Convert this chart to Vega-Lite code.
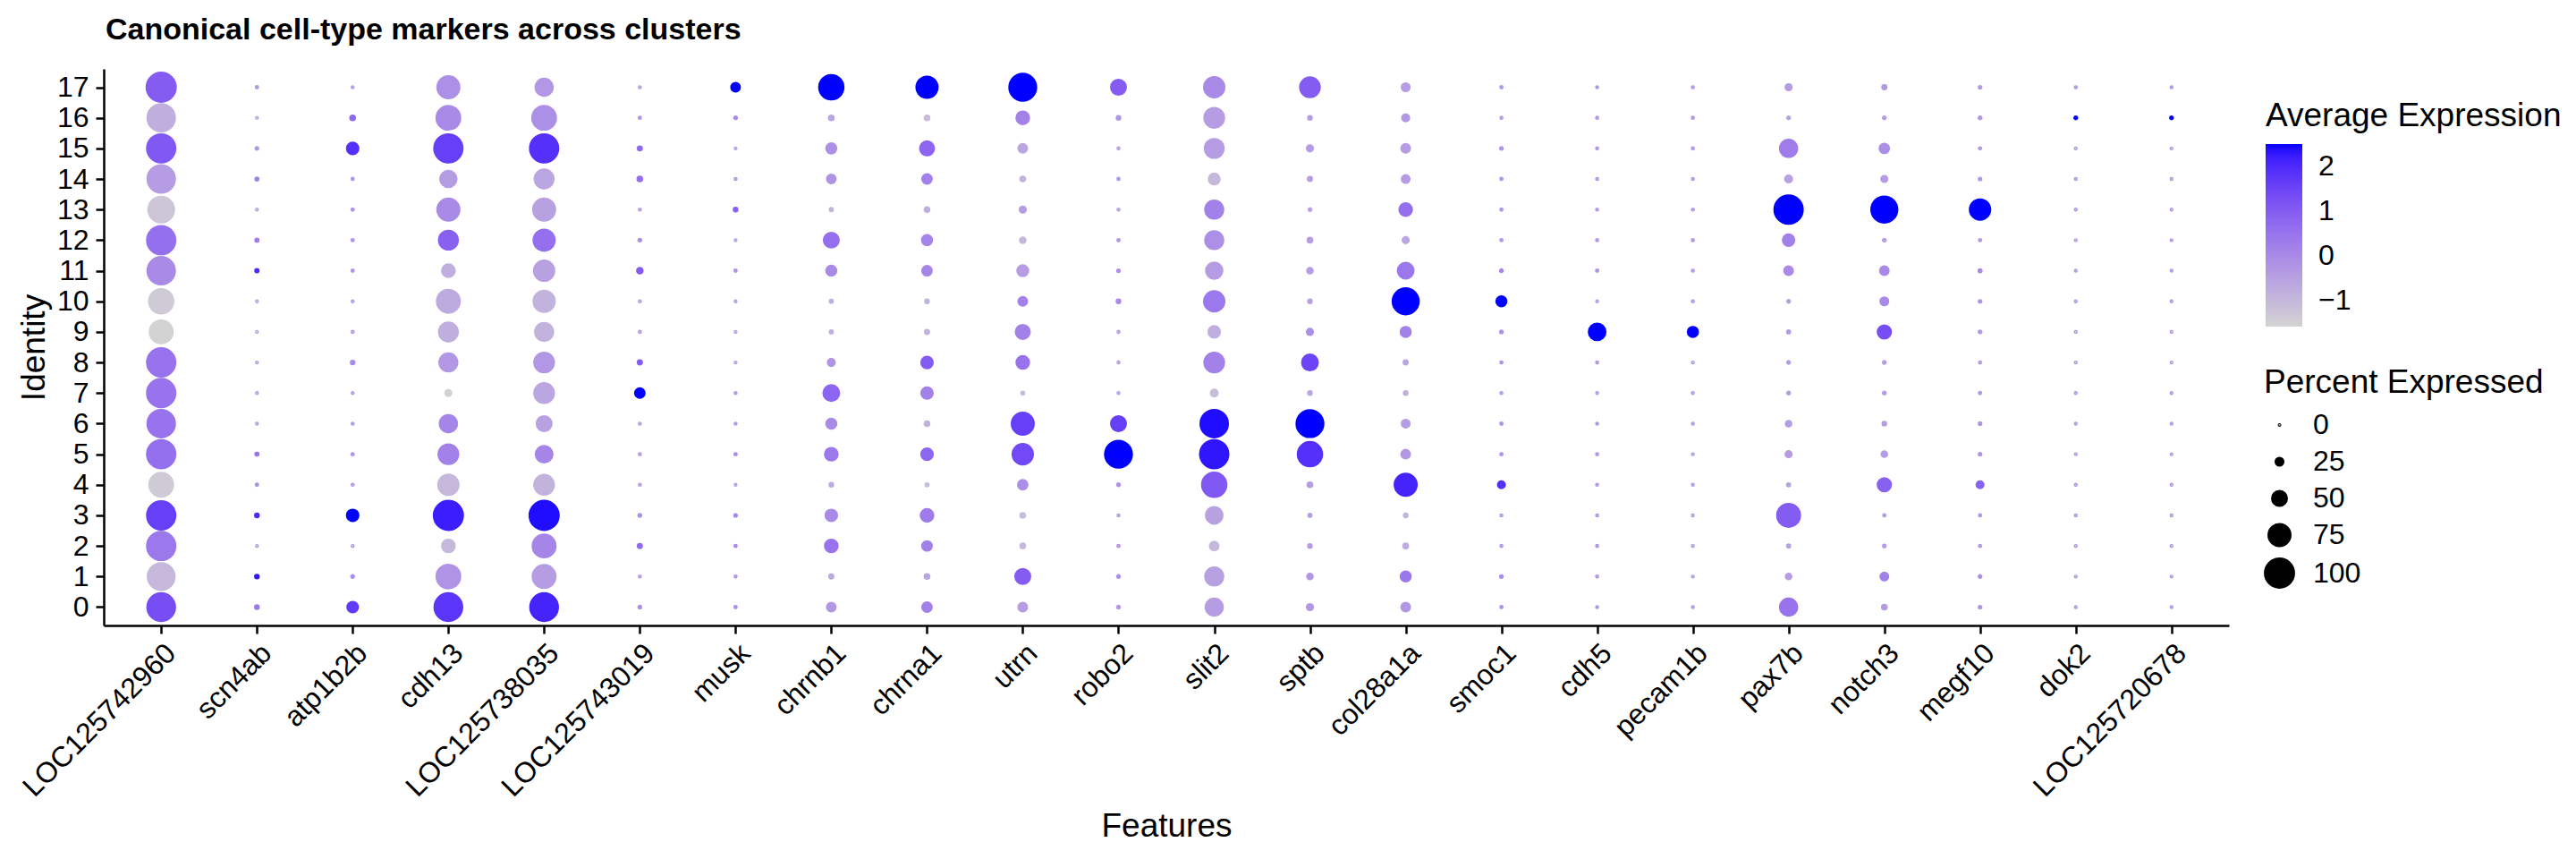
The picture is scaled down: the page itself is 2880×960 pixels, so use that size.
{
"$schema": "https://vega.github.io/schema/vega-lite/v6.json",
"width": 2376, "height": 622,
"autosize": {"type": "none"},
"padding": {"left": 116, "top": 77, "right": 388, "bottom": 261},
"background": "white",
"title": {"text": "Canonical cell-type markers across clusters", "anchor": "start", "frame": "group", "fontSize": 34, "fontWeight": "bold", "font": "Liberation Sans", "color": "black", "baseline": "alphabetic", "offset": -2, "dx": 2},
"config": {"view": {"stroke": null}, "font": "Liberation Sans"},
"datasets": {"dots": [
{"feature":"LOC125742960","cluster":0,"pct":95,"avg":1.3},{"feature":"LOC125742960","cluster":1,"pct":92,"avg":-1.0},{"feature":"LOC125742960","cluster":2,"pct":97,"avg":0.4},{"feature":"LOC125742960","cluster":3,"pct":97,"avg":1.6},{"feature":"LOC125742960","cluster":4,"pct":81,"avg":-1.4},{"feature":"LOC125742960","cluster":5,"pct":97,"avg":0.6},{"feature":"LOC125742960","cluster":6,"pct":94,"avg":0.5},{"feature":"LOC125742960","cluster":7,"pct":97,"avg":0.5},{"feature":"LOC125742960","cluster":8,"pct":97,"avg":0.5},{"feature":"LOC125742960","cluster":9,"pct":78,"avg":-1.55},{"feature":"LOC125742960","cluster":10,"pct":83,"avg":-1.4},{"feature":"LOC125742960","cluster":11,"pct":94,"avg":0.0},{"feature":"LOC125742960","cluster":12,"pct":97,"avg":0.6},{"feature":"LOC125742960","cluster":13,"pct":88,"avg":-1.3},{"feature":"LOC125742960","cluster":14,"pct":94,"avg":-0.4},{"feature":"LOC125742960","cluster":15,"pct":97,"avg":1.1},{"feature":"LOC125742960","cluster":16,"pct":94,"avg":-0.8},{"feature":"LOC125742960","cluster":17,"pct":100,"avg":1.0},
{"feature":"scn4ab","cluster":0,"pct":10,"avg":0.4},{"feature":"scn4ab","cluster":1,"pct":10,"avg":2.3},{"feature":"scn4ab","cluster":2,"pct":3,"avg":-0.4},{"feature":"scn4ab","cluster":3,"pct":10,"avg":2.0},{"feature":"scn4ab","cluster":4,"pct":5,"avg":-0.1},{"feature":"scn4ab","cluster":5,"pct":8,"avg":0.5},{"feature":"scn4ab","cluster":6,"pct":3,"avg":-0.4},{"feature":"scn4ab","cluster":7,"pct":3,"avg":-0.3},{"feature":"scn4ab","cluster":8,"pct":3,"avg":-0.4},{"feature":"scn4ab","cluster":9,"pct":3,"avg":-0.5},{"feature":"scn4ab","cluster":10,"pct":3,"avg":-0.5},{"feature":"scn4ab","cluster":11,"pct":9,"avg":2.0},{"feature":"scn4ab","cluster":12,"pct":8,"avg":0.3},{"feature":"scn4ab","cluster":13,"pct":3,"avg":-0.5},{"feature":"scn4ab","cluster":14,"pct":8,"avg":0.2},{"feature":"scn4ab","cluster":15,"pct":6,"avg":-0.3},{"feature":"scn4ab","cluster":16,"pct":3,"avg":-0.5},{"feature":"scn4ab","cluster":17,"pct":5,"avg":-0.3},
{"feature":"atp1b2b","cluster":0,"pct":35,"avg":1.7},{"feature":"atp1b2b","cluster":1,"pct":7,"avg":-0.1},{"feature":"atp1b2b","cluster":2,"pct":3,"avg":-0.3},{"feature":"atp1b2b","cluster":3,"pct":38,"avg":2.5},{"feature":"atp1b2b","cluster":4,"pct":4,"avg":-0.3},{"feature":"atp1b2b","cluster":5,"pct":5,"avg":-0.2},{"feature":"atp1b2b","cluster":6,"pct":4,"avg":-0.3},{"feature":"atp1b2b","cluster":7,"pct":3,"avg":-0.3},{"feature":"atp1b2b","cluster":8,"pct":10,"avg":0.0},{"feature":"atp1b2b","cluster":9,"pct":4,"avg":-0.4},{"feature":"atp1b2b","cluster":10,"pct":4,"avg":-0.4},{"feature":"atp1b2b","cluster":11,"pct":5,"avg":-0.2},{"feature":"atp1b2b","cluster":12,"pct":5,"avg":-0.2},{"feature":"atp1b2b","cluster":13,"pct":5,"avg":-0.2},{"feature":"atp1b2b","cluster":14,"pct":5,"avg":-0.3},{"feature":"atp1b2b","cluster":15,"pct":38,"avg":1.9},{"feature":"atp1b2b","cluster":16,"pct":14,"avg":0.7},{"feature":"atp1b2b","cluster":17,"pct":4,"avg":-0.4},
{"feature":"cdh13","cluster":0,"pct":95,"avg":1.8},{"feature":"cdh13","cluster":1,"pct":81,"avg":-0.2},{"feature":"cdh13","cluster":2,"pct":42,"avg":-1.0},{"feature":"cdh13","cluster":3,"pct":100,"avg":2.2},{"feature":"cdh13","cluster":4,"pct":69,"avg":-1.0},{"feature":"cdh13","cluster":5,"pct":67,"avg":0.2},{"feature":"cdh13","cluster":6,"pct":58,"avg":0.1},{"feature":"cdh13","cluster":7,"pct":19,"avg":-1.55},{"feature":"cdh13","cluster":8,"pct":61,"avg":-0.3},{"feature":"cdh13","cluster":9,"pct":64,"avg":-0.8},{"feature":"cdh13","cluster":10,"pct":78,"avg":-0.7},{"feature":"cdh13","cluster":11,"pct":42,"avg":-0.8},{"feature":"cdh13","cluster":12,"pct":64,"avg":0.9},{"feature":"cdh13","cluster":13,"pct":75,"avg":0.0},{"feature":"cdh13","cluster":14,"pct":55,"avg":-0.4},{"feature":"cdh13","cluster":15,"pct":97,"avg":1.6},{"feature":"cdh13","cluster":16,"pct":81,"avg":0.0},{"feature":"cdh13","cluster":17,"pct":75,"avg":-0.1},
{"feature":"LOC125738035","cluster":0,"pct":95,"avg":2.1},{"feature":"LOC125738035","cluster":1,"pct":78,"avg":-0.4},{"feature":"LOC125738035","cluster":2,"pct":78,"avg":0.1},{"feature":"LOC125738035","cluster":3,"pct":100,"avg":2.4},{"feature":"LOC125738035","cluster":4,"pct":67,"avg":-0.9},{"feature":"LOC125738035","cluster":5,"pct":56,"avg":0.1},{"feature":"LOC125738035","cluster":6,"pct":50,"avg":-0.5},{"feature":"LOC125738035","cluster":7,"pct":67,"avg":-0.6},{"feature":"LOC125738035","cluster":8,"pct":67,"avg":-0.3},{"feature":"LOC125738035","cluster":9,"pct":61,"avg":-0.9},{"feature":"LOC125738035","cluster":10,"pct":72,"avg":-0.9},{"feature":"LOC125738035","cluster":11,"pct":69,"avg":-0.5},{"feature":"LOC125738035","cluster":12,"pct":72,"avg":0.6},{"feature":"LOC125738035","cluster":13,"pct":75,"avg":-0.5},{"feature":"LOC125738035","cluster":14,"pct":64,"avg":-0.6},{"feature":"LOC125738035","cluster":15,"pct":97,"avg":1.9},{"feature":"LOC125738035","cluster":16,"pct":81,"avg":-0.1},{"feature":"LOC125738035","cluster":17,"pct":58,"avg":-0.3},
{"feature":"LOC125743019","cluster":0,"pct":7,"avg":-0.1},{"feature":"LOC125743019","cluster":1,"pct":4,"avg":-0.4},{"feature":"LOC125743019","cluster":2,"pct":12,"avg":0.7},{"feature":"LOC125743019","cluster":3,"pct":7,"avg":-0.1},{"feature":"LOC125743019","cluster":4,"pct":4,"avg":-0.4},{"feature":"LOC125743019","cluster":5,"pct":4,"avg":-0.4},{"feature":"LOC125743019","cluster":6,"pct":4,"avg":-0.4},{"feature":"LOC125743019","cluster":7,"pct":31,"avg":2.5},{"feature":"LOC125743019","cluster":8,"pct":12,"avg":1.0},{"feature":"LOC125743019","cluster":9,"pct":4,"avg":-0.4},{"feature":"LOC125743019","cluster":10,"pct":4,"avg":-0.4},{"feature":"LOC125743019","cluster":11,"pct":17,"avg":1.0},{"feature":"LOC125743019","cluster":12,"pct":7,"avg":-0.1},{"feature":"LOC125743019","cluster":13,"pct":4,"avg":-0.4},{"feature":"LOC125743019","cluster":14,"pct":14,"avg":0.6},{"feature":"LOC125743019","cluster":15,"pct":12,"avg":0.7},{"feature":"LOC125743019","cluster":16,"pct":5,"avg":-0.2},{"feature":"LOC125743019","cluster":17,"pct":4,"avg":-0.4},
{"feature":"musk","cluster":0,"pct":5,"avg":-0.1},{"feature":"musk","cluster":1,"pct":4,"avg":-0.3},{"feature":"musk","cluster":2,"pct":5,"avg":0.0},{"feature":"musk","cluster":3,"pct":6,"avg":0.1},{"feature":"musk","cluster":4,"pct":3,"avg":-0.4},{"feature":"musk","cluster":5,"pct":5,"avg":0.0},{"feature":"musk","cluster":6,"pct":4,"avg":-0.3},{"feature":"musk","cluster":7,"pct":4,"avg":-0.3},{"feature":"musk","cluster":8,"pct":3,"avg":-0.4},{"feature":"musk","cluster":9,"pct":3,"avg":-0.4},{"feature":"musk","cluster":10,"pct":3,"avg":-0.4},{"feature":"musk","cluster":11,"pct":5,"avg":-0.2},{"feature":"musk","cluster":12,"pct":3,"avg":-0.4},{"feature":"musk","cluster":13,"pct":10,"avg":0.9},{"feature":"musk","cluster":14,"pct":4,"avg":-0.3},{"feature":"musk","cluster":15,"pct":3,"avg":-0.4},{"feature":"musk","cluster":16,"pct":7,"avg":0.0},{"feature":"musk","cluster":17,"pct":28,"avg":2.5},
{"feature":"chrnb1","cluster":0,"pct":28,"avg":-0.3},{"feature":"chrnb1","cluster":1,"pct":12,"avg":-0.7},{"feature":"chrnb1","cluster":2,"pct":42,"avg":0.5},{"feature":"chrnb1","cluster":3,"pct":38,"avg":0.0},{"feature":"chrnb1","cluster":4,"pct":10,"avg":-0.7},{"feature":"chrnb1","cluster":5,"pct":42,"avg":0.4},{"feature":"chrnb1","cluster":6,"pct":33,"avg":0.0},{"feature":"chrnb1","cluster":7,"pct":53,"avg":0.8},{"feature":"chrnb1","cluster":8,"pct":22,"avg":-0.2},{"feature":"chrnb1","cluster":9,"pct":8,"avg":-0.8},{"feature":"chrnb1","cluster":10,"pct":8,"avg":-0.8},{"feature":"chrnb1","cluster":11,"pct":33,"avg":0.0},{"feature":"chrnb1","cluster":12,"pct":50,"avg":0.6},{"feature":"chrnb1","cluster":13,"pct":8,"avg":-0.9},{"feature":"chrnb1","cluster":14,"pct":28,"avg":-0.2},{"feature":"chrnb1","cluster":15,"pct":33,"avg":-0.1},{"feature":"chrnb1","cluster":16,"pct":14,"avg":-0.6},{"feature":"chrnb1","cluster":17,"pct":83,"avg":2.5},
{"feature":"chrna1","cluster":0,"pct":31,"avg":0.2},{"feature":"chrna1","cluster":1,"pct":14,"avg":-0.6},{"feature":"chrna1","cluster":2,"pct":31,"avg":0.2},{"feature":"chrna1","cluster":3,"pct":42,"avg":0.3},{"feature":"chrna1","cluster":4,"pct":8,"avg":-1.1},{"feature":"chrna1","cluster":5,"pct":38,"avg":0.8},{"feature":"chrna1","cluster":6,"pct":14,"avg":-0.9},{"feature":"chrna1","cluster":7,"pct":38,"avg":0.2},{"feature":"chrna1","cluster":8,"pct":38,"avg":1.0},{"feature":"chrna1","cluster":9,"pct":12,"avg":-0.9},{"feature":"chrna1","cluster":10,"pct":10,"avg":-0.9},{"feature":"chrna1","cluster":11,"pct":31,"avg":0.1},{"feature":"chrna1","cluster":12,"pct":33,"avg":0.1},{"feature":"chrna1","cluster":13,"pct":14,"avg":-0.8},{"feature":"chrna1","cluster":14,"pct":31,"avg":0.2},{"feature":"chrna1","cluster":15,"pct":47,"avg":0.8},{"feature":"chrna1","cluster":16,"pct":14,"avg":-1.1},{"feature":"chrna1","cluster":17,"pct":72,"avg":2.5},
{"feature":"utrn","cluster":0,"pct":28,"avg":-0.4},{"feature":"utrn","cluster":1,"pct":50,"avg":1.0},{"feature":"utrn","cluster":2,"pct":14,"avg":-1.0},{"feature":"utrn","cluster":3,"pct":14,"avg":-1.1},{"feature":"utrn","cluster":4,"pct":31,"avg":-0.1},{"feature":"utrn","cluster":5,"pct":69,"avg":1.4},{"feature":"utrn","cluster":6,"pct":75,"avg":1.6},{"feature":"utrn","cluster":7,"pct":8,"avg":-1.1},{"feature":"utrn","cluster":8,"pct":42,"avg":0.5},{"feature":"utrn","cluster":9,"pct":47,"avg":0.2},{"feature":"utrn","cluster":10,"pct":28,"avg":0.2},{"feature":"utrn","cluster":11,"pct":36,"avg":-0.4},{"feature":"utrn","cluster":12,"pct":17,"avg":-1.0},{"feature":"utrn","cluster":13,"pct":19,"avg":-0.4},{"feature":"utrn","cluster":14,"pct":14,"avg":-0.9},{"feature":"utrn","cluster":15,"pct":28,"avg":-0.6},{"feature":"utrn","cluster":16,"pct":42,"avg":0.2},{"feature":"utrn","cluster":17,"pct":92,"avg":2.5},
{"feature":"robo2","cluster":0,"pct":7,"avg":-0.3},{"feature":"robo2","cluster":1,"pct":7,"avg":-0.1},{"feature":"robo2","cluster":2,"pct":5,"avg":-0.3},{"feature":"robo2","cluster":3,"pct":4,"avg":-0.4},{"feature":"robo2","cluster":4,"pct":7,"avg":-0.2},{"feature":"robo2","cluster":5,"pct":92,"avg":2.5},{"feature":"robo2","cluster":6,"pct":50,"avg":1.6},{"feature":"robo2","cluster":7,"pct":4,"avg":-0.5},{"feature":"robo2","cluster":8,"pct":4,"avg":-0.5},{"feature":"robo2","cluster":9,"pct":4,"avg":-0.5},{"feature":"robo2","cluster":10,"pct":10,"avg":0.0},{"feature":"robo2","cluster":11,"pct":6,"avg":-0.1},{"feature":"robo2","cluster":12,"pct":5,"avg":-0.3},{"feature":"robo2","cluster":13,"pct":4,"avg":-0.5},{"feature":"robo2","cluster":14,"pct":5,"avg":-0.3},{"feature":"robo2","cluster":15,"pct":4,"avg":-0.5},{"feature":"robo2","cluster":16,"pct":10,"avg":-0.3},{"feature":"robo2","cluster":17,"pct":50,"avg":1.0},
{"feature":"slit2","cluster":0,"pct":58,"avg":-0.4},{"feature":"slit2","cluster":1,"pct":61,"avg":-0.5},{"feature":"slit2","cluster":2,"pct":28,"avg":-1.0},{"feature":"slit2","cluster":3,"pct":56,"avg":-0.5},{"feature":"slit2","cluster":4,"pct":83,"avg":1.1},{"feature":"slit2","cluster":5,"pct":97,"avg":2.3},{"feature":"slit2","cluster":6,"pct":94,"avg":2.4},{"feature":"slit2","cluster":7,"pct":22,"avg":-1.1},{"feature":"slit2","cluster":8,"pct":67,"avg":0.2},{"feature":"slit2","cluster":9,"pct":38,"avg":-0.8},{"feature":"slit2","cluster":10,"pct":69,"avg":0.4},{"feature":"slit2","cluster":11,"pct":55,"avg":-0.4},{"feature":"slit2","cluster":12,"pct":61,"avg":-0.1},{"feature":"slit2","cluster":13,"pct":61,"avg":0.2},{"feature":"slit2","cluster":14,"pct":36,"avg":-1.0},{"feature":"slit2","cluster":15,"pct":64,"avg":-0.4},{"feature":"slit2","cluster":16,"pct":67,"avg":-0.4},{"feature":"slit2","cluster":17,"pct":69,"avg":0.0},
{"feature":"sptb","cluster":0,"pct":19,"avg":-0.3},{"feature":"sptb","cluster":1,"pct":17,"avg":-0.3},{"feature":"sptb","cluster":2,"pct":10,"avg":-0.4},{"feature":"sptb","cluster":3,"pct":8,"avg":-0.5},{"feature":"sptb","cluster":4,"pct":14,"avg":-0.4},{"feature":"sptb","cluster":5,"pct":83,"avg":1.9},{"feature":"sptb","cluster":6,"pct":92,"avg":2.5},{"feature":"sptb","cluster":7,"pct":10,"avg":-0.6},{"feature":"sptb","cluster":8,"pct":53,"avg":1.5},{"feature":"sptb","cluster":9,"pct":19,"avg":-0.1},{"feature":"sptb","cluster":10,"pct":10,"avg":-0.5},{"feature":"sptb","cluster":11,"pct":17,"avg":-0.4},{"feature":"sptb","cluster":12,"pct":14,"avg":-0.4},{"feature":"sptb","cluster":13,"pct":7,"avg":-0.5},{"feature":"sptb","cluster":14,"pct":12,"avg":-0.4},{"feature":"sptb","cluster":15,"pct":19,"avg":-0.4},{"feature":"sptb","cluster":16,"pct":10,"avg":-0.4},{"feature":"sptb","cluster":17,"pct":67,"avg":1.0},
{"feature":"col28a1a","cluster":0,"pct":28,"avg":-0.3},{"feature":"col28a1a","cluster":1,"pct":33,"avg":0.4},{"feature":"col28a1a","cluster":2,"pct":14,"avg":-0.7},{"feature":"col28a1a","cluster":3,"pct":10,"avg":-0.9},{"feature":"col28a1a","cluster":4,"pct":75,"avg":2.1},{"feature":"col28a1a","cluster":5,"pct":28,"avg":-0.3},{"feature":"col28a1a","cluster":6,"pct":25,"avg":-0.4},{"feature":"col28a1a","cluster":7,"pct":10,"avg":-0.8},{"feature":"col28a1a","cluster":8,"pct":12,"avg":-0.6},{"feature":"col28a1a","cluster":9,"pct":33,"avg":0.2},{"feature":"col28a1a","cluster":10,"pct":89,"avg":2.5},{"feature":"col28a1a","cluster":11,"pct":53,"avg":0.4},{"feature":"col28a1a","cluster":12,"pct":19,"avg":-0.6},{"feature":"col28a1a","cluster":13,"pct":42,"avg":0.6},{"feature":"col28a1a","cluster":14,"pct":25,"avg":-0.4},{"feature":"col28a1a","cluster":15,"pct":28,"avg":-0.4},{"feature":"col28a1a","cluster":16,"pct":22,"avg":-0.3},{"feature":"col28a1a","cluster":17,"pct":25,"avg":-0.4},
{"feature":"smoc1","cluster":0,"pct":5,"avg":-0.2},{"feature":"smoc1","cluster":1,"pct":6,"avg":0.0},{"feature":"smoc1","cluster":2,"pct":4,"avg":-0.3},{"feature":"smoc1","cluster":3,"pct":4,"avg":-0.3},{"feature":"smoc1","cluster":4,"pct":22,"avg":1.9},{"feature":"smoc1","cluster":5,"pct":5,"avg":-0.2},{"feature":"smoc1","cluster":6,"pct":5,"avg":-0.2},{"feature":"smoc1","cluster":7,"pct":4,"avg":-0.3},{"feature":"smoc1","cluster":8,"pct":5,"avg":-0.2},{"feature":"smoc1","cluster":9,"pct":6,"avg":-0.1},{"feature":"smoc1","cluster":10,"pct":33,"avg":2.5},{"feature":"smoc1","cluster":11,"pct":7,"avg":0.1},{"feature":"smoc1","cluster":12,"pct":5,"avg":-0.3},{"feature":"smoc1","cluster":13,"pct":5,"avg":-0.3},{"feature":"smoc1","cluster":14,"pct":5,"avg":-0.3},{"feature":"smoc1","cluster":15,"pct":6,"avg":-0.2},{"feature":"smoc1","cluster":16,"pct":4,"avg":-0.4},{"feature":"smoc1","cluster":17,"pct":5,"avg":-0.3},
{"feature":"cdh5","cluster":0,"pct":4,"avg":-0.25},{"feature":"cdh5","cluster":1,"pct":4,"avg":-0.25},{"feature":"cdh5","cluster":2,"pct":4,"avg":-0.25},{"feature":"cdh5","cluster":3,"pct":4,"avg":-0.25},{"feature":"cdh5","cluster":4,"pct":4,"avg":-0.25},{"feature":"cdh5","cluster":5,"pct":4,"avg":-0.25},{"feature":"cdh5","cluster":6,"pct":4,"avg":-0.25},{"feature":"cdh5","cluster":7,"pct":3,"avg":-0.3},{"feature":"cdh5","cluster":8,"pct":4,"avg":-0.25},{"feature":"cdh5","cluster":9,"pct":56,"avg":2.5},{"feature":"cdh5","cluster":10,"pct":3,"avg":-0.35},{"feature":"cdh5","cluster":11,"pct":5,"avg":-0.2},{"feature":"cdh5","cluster":12,"pct":4,"avg":-0.25},{"feature":"cdh5","cluster":13,"pct":4,"avg":-0.25},{"feature":"cdh5","cluster":14,"pct":4,"avg":-0.25},{"feature":"cdh5","cluster":15,"pct":4,"avg":-0.25},{"feature":"cdh5","cluster":16,"pct":4,"avg":-0.25},{"feature":"cdh5","cluster":17,"pct":4,"avg":-0.25},
{"feature":"pecam1b","cluster":0,"pct":3,"avg":-0.25},{"feature":"pecam1b","cluster":1,"pct":3,"avg":-0.25},{"feature":"pecam1b","cluster":2,"pct":3,"avg":-0.25},{"feature":"pecam1b","cluster":3,"pct":3,"avg":-0.25},{"feature":"pecam1b","cluster":4,"pct":3,"avg":-0.25},{"feature":"pecam1b","cluster":5,"pct":3,"avg":-0.25},{"feature":"pecam1b","cluster":6,"pct":3,"avg":-0.25},{"feature":"pecam1b","cluster":7,"pct":3,"avg":-0.25},{"feature":"pecam1b","cluster":8,"pct":3,"avg":-0.25},{"feature":"pecam1b","cluster":9,"pct":33,"avg":2.5},{"feature":"pecam1b","cluster":10,"pct":4,"avg":-0.25},{"feature":"pecam1b","cluster":11,"pct":4,"avg":-0.25},{"feature":"pecam1b","cluster":12,"pct":4,"avg":-0.25},{"feature":"pecam1b","cluster":13,"pct":4,"avg":-0.25},{"feature":"pecam1b","cluster":14,"pct":4,"avg":-0.25},{"feature":"pecam1b","cluster":15,"pct":4,"avg":-0.25},{"feature":"pecam1b","cluster":16,"pct":4,"avg":-0.25},{"feature":"pecam1b","cluster":17,"pct":4,"avg":-0.25},
{"feature":"pax7b","cluster":0,"pct":58,"avg":0.5},{"feature":"pax7b","cluster":1,"pct":17,"avg":-0.4},{"feature":"pax7b","cluster":2,"pct":8,"avg":-0.5},{"feature":"pax7b","cluster":3,"pct":78,"avg":1.0},{"feature":"pax7b","cluster":4,"pct":8,"avg":-0.5},{"feature":"pax7b","cluster":5,"pct":19,"avg":-0.4},{"feature":"pax7b","cluster":6,"pct":17,"avg":-0.4},{"feature":"pax7b","cluster":7,"pct":7,"avg":-0.4},{"feature":"pax7b","cluster":8,"pct":7,"avg":-0.4},{"feature":"pax7b","cluster":9,"pct":8,"avg":-0.4},{"feature":"pax7b","cluster":10,"pct":7,"avg":-0.5},{"feature":"pax7b","cluster":11,"pct":28,"avg":0.0},{"feature":"pax7b","cluster":12,"pct":38,"avg":0.2},{"feature":"pax7b","cluster":13,"pct":97,"avg":2.5},{"feature":"pax7b","cluster":14,"pct":22,"avg":-0.5},{"feature":"pax7b","cluster":15,"pct":58,"avg":0.3},{"feature":"pax7b","cluster":16,"pct":7,"avg":-0.5},{"feature":"pax7b","cluster":17,"pct":19,"avg":-0.4},
{"feature":"notch3","cluster":0,"pct":14,"avg":-0.4},{"feature":"notch3","cluster":1,"pct":25,"avg":0.2},{"feature":"notch3","cluster":2,"pct":6,"avg":-0.4},{"feature":"notch3","cluster":3,"pct":5,"avg":-0.4},{"feature":"notch3","cluster":4,"pct":44,"avg":0.9},{"feature":"notch3","cluster":5,"pct":17,"avg":-0.4},{"feature":"notch3","cluster":6,"pct":10,"avg":-0.4},{"feature":"notch3","cluster":7,"pct":7,"avg":-0.4},{"feature":"notch3","cluster":8,"pct":7,"avg":-0.4},{"feature":"notch3","cluster":9,"pct":44,"avg":1.3},{"feature":"notch3","cluster":10,"pct":25,"avg":0.0},{"feature":"notch3","cluster":11,"pct":28,"avg":0.0},{"feature":"notch3","cluster":12,"pct":7,"avg":-0.4},{"feature":"notch3","cluster":13,"pct":89,"avg":2.5},{"feature":"notch3","cluster":14,"pct":19,"avg":-0.4},{"feature":"notch3","cluster":15,"pct":31,"avg":-0.1},{"feature":"notch3","cluster":16,"pct":7,"avg":-0.4},{"feature":"notch3","cluster":17,"pct":12,"avg":-0.3},
{"feature":"megf10","cluster":0,"pct":6,"avg":-0.2},{"feature":"megf10","cluster":1,"pct":7,"avg":-0.1},{"feature":"megf10","cluster":2,"pct":5,"avg":-0.3},{"feature":"megf10","cluster":3,"pct":5,"avg":-0.3},{"feature":"megf10","cluster":4,"pct":22,"avg":0.9},{"feature":"megf10","cluster":5,"pct":6,"avg":-0.2},{"feature":"megf10","cluster":6,"pct":6,"avg":-0.2},{"feature":"megf10","cluster":7,"pct":5,"avg":-0.3},{"feature":"megf10","cluster":8,"pct":4,"avg":-0.3},{"feature":"megf10","cluster":9,"pct":7,"avg":-0.3},{"feature":"megf10","cluster":10,"pct":6,"avg":-0.2},{"feature":"megf10","cluster":11,"pct":8,"avg":0.0},{"feature":"megf10","cluster":12,"pct":5,"avg":-0.3},{"feature":"megf10","cluster":13,"pct":69,"avg":2.5},{"feature":"megf10","cluster":14,"pct":6,"avg":-0.3},{"feature":"megf10","cluster":15,"pct":5,"avg":-0.3},{"feature":"megf10","cluster":16,"pct":7,"avg":-0.2},{"feature":"megf10","cluster":17,"pct":6,"avg":-0.3},
{"feature":"dok2","cluster":0,"pct":3,"avg":-0.25},{"feature":"dok2","cluster":1,"pct":3,"avg":-0.25},{"feature":"dok2","cluster":2,"pct":3,"avg":-0.25},{"feature":"dok2","cluster":3,"pct":3,"avg":-0.25},{"feature":"dok2","cluster":4,"pct":3,"avg":-0.25},{"feature":"dok2","cluster":5,"pct":3,"avg":-0.25},{"feature":"dok2","cluster":6,"pct":3,"avg":-0.25},{"feature":"dok2","cluster":7,"pct":3,"avg":-0.25},{"feature":"dok2","cluster":8,"pct":3,"avg":-0.25},{"feature":"dok2","cluster":9,"pct":3,"avg":-0.25},{"feature":"dok2","cluster":10,"pct":3,"avg":-0.25},{"feature":"dok2","cluster":11,"pct":3,"avg":-0.25},{"feature":"dok2","cluster":12,"pct":3,"avg":-0.25},{"feature":"dok2","cluster":13,"pct":3,"avg":-0.25},{"feature":"dok2","cluster":14,"pct":3,"avg":-0.25},{"feature":"dok2","cluster":15,"pct":3,"avg":-0.25},{"feature":"dok2","cluster":16,"pct":7,"avg":2.5},{"feature":"dok2","cluster":17,"pct":4,"avg":-0.25},
{"feature":"LOC125720678","cluster":0,"pct":3,"avg":-0.25},{"feature":"LOC125720678","cluster":1,"pct":3,"avg":-0.25},{"feature":"LOC125720678","cluster":2,"pct":3,"avg":-0.25},{"feature":"LOC125720678","cluster":3,"pct":3,"avg":-0.25},{"feature":"LOC125720678","cluster":4,"pct":3,"avg":-0.25},{"feature":"LOC125720678","cluster":5,"pct":3,"avg":-0.25},{"feature":"LOC125720678","cluster":6,"pct":3,"avg":-0.25},{"feature":"LOC125720678","cluster":7,"pct":3,"avg":-0.25},{"feature":"LOC125720678","cluster":8,"pct":3,"avg":-0.25},{"feature":"LOC125720678","cluster":9,"pct":3,"avg":-0.25},{"feature":"LOC125720678","cluster":10,"pct":3,"avg":-0.25},{"feature":"LOC125720678","cluster":11,"pct":3,"avg":-0.25},{"feature":"LOC125720678","cluster":12,"pct":3,"avg":-0.25},{"feature":"LOC125720678","cluster":13,"pct":3,"avg":-0.25},{"feature":"LOC125720678","cluster":14,"pct":3,"avg":-0.25},{"feature":"LOC125720678","cluster":15,"pct":3,"avg":-0.25},{"feature":"LOC125720678","cluster":16,"pct":7,"avg":2.5},{"feature":"LOC125720678","cluster":17,"pct":4,"avg":-0.25}
]},
"data": {"name": "dots"},
"mark": {"type": "point", "filled": true, "opacity": 1, "strokeWidth": 3, "strokeOpacity": 1, "shape": "circle", "stroke": {"expr": "scale('color', datum.avg)"}},
"encoding": {
  "x": {"field": "feature", "type": "nominal",
    "sort": ["LOC125742960","scn4ab","atp1b2b","cdh13","LOC125738035","LOC125743019","musk","chrnb1","chrna1","utrn","robo2","slit2","sptb","col28a1a","smoc1","cdh5","pecam1b","pax7b","notch3","megf10","dok2","LOC125720678"],
    "scale": {"type": "point", "padding": 0.6},
    "axis": {"title": "Features", "labelAngle": -45, "labelAlign": "right", "labelBaseline": "top", "labelFontSize": 32, "labelColor": "black", "labelPadding": 6, "labelLimit": 0, "labelOverlap": false, "labelFont": "Liberation Sans", "tickSize": 9, "tickWidth": 2.5, "tickColor": "black", "domainColor": "black", "domainWidth": 2.5, "titleFontSize": 37, "titleFontWeight": "normal", "titleColor": "black", "titleFont": "Liberation Sans", "titlePadding": 10, "grid": false}},
  "y": {"field": "cluster", "type": "ordinal", "sort": "descending",
    "scale": {"type": "point", "padding": 0.6},
    "axis": {"title": "Identity", "labelAngle": 0, "labelFontSize": 32, "labelColor": "black", "labelPadding": 8, "labelFont": "Liberation Sans", "tickSize": 9, "tickWidth": 2.5, "tickColor": "black", "domainColor": "black", "domainWidth": 2.5, "titleFontSize": 37, "titleFontWeight": "normal", "titleColor": "black", "titleFont": "Liberation Sans", "titlePadding": 6, "grid": false}},
  "size": {"field": "pct", "type": "quantitative",
    "scale": {"type": "pow", "exponent": 2, "domain": [0, 100], "range": [1, 1018]},
    "legend": {"title": "Percent Expressed", "orient": "none", "legendX": 2415, "legendY": 333, "values": [0, 25, 50, 75, 100], "padding": 0, "rowPadding": -4, "gridAlign": "all", "labelOffset": 20, "labelFontSize": 32, "labelColor": "black", "labelFont": "Liberation Sans", "titleFontSize": 37, "titleFontWeight": "normal", "titleColor": "black", "titleFont": "Liberation Sans", "titlePadding": 12, "titleBaseline": "top", "titleLimit": 1000, "symbolType": "circle", "symbolFillColor": "black", "symbolStrokeColor": "black", "symbolStrokeWidth": 3, "symbolOpacity": 1}},
  "color": {"field": "avg", "type": "quantitative",
    "scale": {"domain": [-1.58, 2.5], "range": ["lightgrey", "blue"], "interpolate": "lab"},
    "legend": {"title": "Average Expression", "type": "gradient", "orient": "none", "legendX": 2417, "legendY": 35, "direction": "vertical", "gradientLength": 204, "gradientThickness": 41, "gradientStrokeWidth": 0, "values": [-1, 0, 1, 2], "labelOverlap": false, "padding": 0, "labelOffset": 18, "labelFontSize": 32, "labelColor": "black", "labelFont": "Liberation Sans", "titleFontSize": 37, "titleFontWeight": "normal", "titleColor": "black", "titleFont": "Liberation Sans", "titlePadding": 12, "titleBaseline": "top", "titleLimit": 1000}}
}
}
